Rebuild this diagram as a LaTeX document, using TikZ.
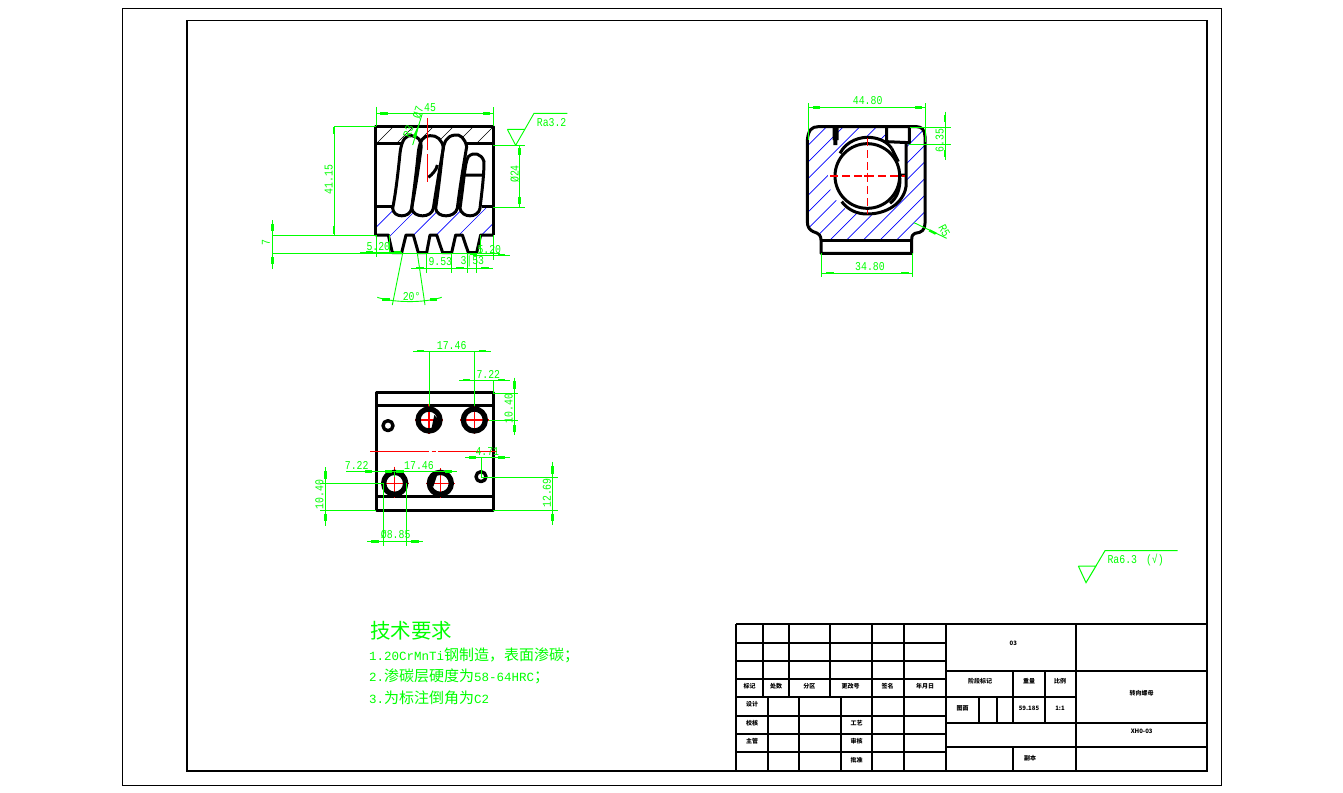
\documentclass[tikz,border=0pt]{standalone}
\usepackage{fontspec}
\setmainfont{Liberation Mono}
\newfontfamily\cjk{Noto Sans CJK SC}
\newfontfamily\dimf[FakeStretch=0.82]{Liberation Mono}
\definecolor{dimg}{RGB}{0,255,0}
\definecolor{cred}{RGB}{255,0,0}
\definecolor{hatchb}{RGB}{0,0,255}
\tikzset{
  part/.style={black,line width=3pt,line join=round},
  tb/.style={black,line width=1.7pt},
  dimline/.style={dimg,line width=.9pt},
  ctr/.style={cred,line width=1.1pt},
  hatchline/.style={line width=.7pt},
  dimtext/.style={dimg,inner sep=0pt,font=\dimf\fontsize{12}{12}\selectfont},
  tbtext/.style={black,inner sep=0pt,font=\cjk\bfseries\fontsize{6}{6}\selectfont},
  note/.style={dimg,inner sep=0pt,anchor=west,font=\cjk\fontsize{15}{15}\selectfont},
  zoomview/.style={x=1pt/3,y=-1pt/3}
}
\newcommand{\hb}[2]{\fill[dimg] (#1-11,#2-4) rectangle (#1+11,#2+4);}
\newcommand{\vb}[2]{\fill[dimg] (#1-4,#2-11) rectangle (#1+4,#2+11);}
\newcommand{\lat}[1]{{\rmfamily\fontsize{12.5}{14}\selectfont #1}}
\newcommand{\coilA}{(398,355) .. controls (405,320) and (412,270) .. (420,190) .. controls (425,145) and (440,135) .. (455,137) .. controls (475,140) and (485,150) .. (483,175) .. controls (475,240) and (465,300) .. (455,355) .. controls (450,385) and (400,385) .. (398,355) -- cycle}
\newcommand{\coilB}{(455,355) .. controls (460,385) and (515,385) .. (520,355) .. controls (530,290) and (540,230) .. (550,175) .. controls (548,150) and (530,135) .. (510,137) .. controls (490,138) and (480,150) .. (475,185) .. controls (470,240) and (462,300) .. (455,355) -- cycle}
\newcommand{\coilC}{(527,355) .. controls (530,385) and (585,385) .. (592,355) .. controls (600,290) and (610,230) .. (620,170) .. controls (615,145) and (600,132) .. (585,135) .. controls (560,138) and (552,155) .. (548,185) .. controls (542,240) and (535,300) .. (527,355) -- cycle}
\newcommand{\coilD}{(600,355) .. controls (605,385) and (655,385) .. (660,355) .. controls (665,310) and (672,260) .. (672,215) .. controls (665,190) and (640,185) .. (625,200) .. controls (615,215) and (612,270) .. (600,355) -- cycle}
\newcommand{\sideoutline}{(52,150) .. controls (55,120) and (65,110) .. (85,110) -- (380,110) .. controls (395,110) and (405,120) .. (405,140) -- (405,400) .. controls (405,420) and (395,428) .. (375,430) .. controls (368,432) and (365,438) .. (365,450)}
\begin{document}
\begin{tikzpicture}[x=1pt,y=-1pt]
\useasboundingbox (0,0) rectangle (1343,792);
\fill[white] (0,0) rectangle (1343,792);
\draw[black,line width=.7pt] (122.5,8.5) rectangle (1221,785);
\draw[black,line width=1.8pt] (187,20.5) rectangle (1207,771);

% ------ front view
\begin{scope}[shift={(260,90)},zoomview]
\begin{scope}
\clip (347,108) rectangle (700,160);
\foreach \k in {0,...,6} \draw[hatchline,black] (340+\k*60,170) -- (420+\k*60,90);
\end{scope}
\begin{scope}
\clip (347,350) rectangle (700,435);
\foreach \k in {0,...,6} \draw[hatchline,hatchb] (290+\k*68,470) -- (430+\k*68,330);
\end{scope}
\fill[white] \coilA; \fill[white] \coilB; \fill[white] \coilC; \fill[white] \coilD;
\draw[part] (347,435) -- (347,108) -- (700,108) -- (700,435);
\draw[part] (347,435) -- (385,435) -- (397,488) -- (425,488) -- (438,435) -- (460,435) -- (475,488) -- (500,488) -- (510,435) -- (530,435) -- (548,488) -- (575,488) -- (587,435) -- (607,435) -- (625,488) -- (650,488) -- (662,435) -- (700,435);
\draw[part] (347,160) -- (425,160) (620,160) -- (700,160);
\draw[part] (347,350) -- (395,350) (665,350) -- (700,350);
\draw[part] \coilA; \draw[part] \coilB; \draw[part] \coilC; \draw[part] \coilD;
\draw[part] (612,255) -- (670,255) (505,262) .. controls (515,255) and (530,240) .. (532,225);
\draw[ctr] (502,85) -- (502,180) (502,192) -- (502,275);
% dims
\draw[dimline] (349,50) -- (349,108) (700,52) -- (700,108) (349,70) -- (700,70);
\hb{372}{70}\hb{680}{70}
\node[dimtext] (fw) at (510,52) {45};
\draw[dimline] (487,70) -- (458,165);
\node[dimtext,rotate=72] (fa) at (474,68) {Ø7};
\node[dimtext,rotate=72] (fb) at (445,124) {R3};
\fill[dimg] (478,100) -- (468,145) -- (458,140) -- cycle;
\draw[dimline] (222,110) -- (347,110) (222,110) -- (222,435);
\vb{222}{122}\vb{222}{420}
\node[dimtext,rotate=90] (fh) at (206,268) {41.15};
\draw[dimline] (38,390) -- (38,538) (38,435) -- (347,435) (38,490) -- (720,490);
\vb{38}{412}\vb{38}{512}
\node[dimtext,rotate=90] (fs) at (18,458) {7};
\draw[dimline] (349,435) -- (349,500) (388,435) -- (388,490) (300,488) -- (425,488);
\hb{328}{486}\hb{412}{488}
\node[dimtext] (fl) at (355,470) {5.20};
\draw[dimline] (660,435) -- (660,490) (700,435) -- (700,510) (640,495) -- (750,495);
\hb{640}{492}\hb{725}{495}
\node[dimtext] (fr) at (688,478) {5.20};
\draw[dimline] (500,490) -- (500,548) (575,490) -- (575,548) (622,490) -- (622,548) (650,490) -- (650,548) (453,534) -- (700,534);
\hb{480}{534}\hb{600}{534}\hb{675}{534}
\node[dimtext] (fp) at (541,515) {9.53};
\node[dimtext] (fq) at (637,515) {3|53};
\draw[dimline] (428,490) -- (397,645) (472,490) -- (495,645);
\draw[dimline] (352,622) .. controls (400,638) and (490,640) .. (545,622);
\hb{378}{628}\hb{520}{628}
\node[dimtext] (fg) at (455,620) {20°};
\draw[dimline] (700,166) -- (795,166) (700,352) -- (795,352) (779,166) -- (779,352);
\vb{779}{185}\vb{779}{332}
\node[dimtext,rotate=90] (fd) at (764,252) {Ø24};
\draw[dimline] (742,118) -- (795,118) (742,118) -- (767,166) (767,166) -- (822,70) -- (922,70);
\node[dimtext,anchor=west] (fra) at (830,98) {Ra3.2};
\end{scope}

% ------ bottom view
\begin{scope}[shift={(300,335)},zoomview]
\draw[part] (228,525) -- (228,173) -- (580,173) -- (580,525) -- cycle;
\draw[part] (228,212) -- (580,212) (228,485) -- (580,485);
\foreach \cx/\cy in {387/255,523/255,284/445,421/445}{
  \fill[white] (\cx,\cy) circle (33);
}
\draw[ctr] (345,255) -- (430,255) (387,208) -- (387,298)
 (480,255) -- (568,255) (523,208) -- (523,298)
 (240,445) -- (328,445) (284,395) -- (284,488)
 (378,445) -- (465,445) (421,400) -- (421,488)
 (210,349) -- (387,349) (395,349) -- (407,349) (415,349) -- (590,349);
\foreach \cx/\cy in {387/255,523/255,284/445,421/445}{
  \draw[part,line width=5.3pt] (\cx,\cy) circle (33);
}
\fill[black] (403,240) -- (412,250) -- (408,290) -- (393,287) -- cycle;
\fill[black] (415,410) -- (400,412) -- (385,450) -- (400,455) -- cycle;
\draw[part,line width=3.4pt] (264,272) circle (15) (543,425) circle (15);
% dims
\draw[dimline] (388,48) -- (388,212) (523,48) -- (523,212) (340,48) -- (572,48);
\hb{362}{48}\hb{548}{48}
\node[dimtext] (ba) at (455,32) {17.46};
\draw[dimline] (478,135) -- (630,135) (580,135) -- (580,175) (580,175) -- (655,175) (568,256) -- (655,256) (643,128) -- (643,300);
\hb{500}{135}\hb{605}{135}\vb{643}{150}\vb{643}{280}
\node[dimtext] (bb) at (565,118) {7.22};
\node[dimtext,rotate=90] (bc) at (626,220) {10.40};
\draw[dimline] (496,367) -- (630,367) (544,367) -- (544,425) (544,427) -- (775,427) (580,525) -- (775,525) (758,380) -- (758,570);
\hb{518}{367}\hb{605}{367}\vb{758}{405}\vb{758}{548}
\node[dimtext] (bd) at (562,349) {4.71};
\node[dimtext,rotate=90] (be) at (741,474) {12.69};
\draw[dimline] (138,410) -- (470,410) (283,410) -- (283,425);
\hb{205}{410}\hb{265}{410}\hb{300}{410}\hb{445}{410}
\node[dimtext] (bf) at (170,391) {7.22};
\node[dimtext] (bg) at (357,391) {17.46};
\draw[dimline] (60,445) -- (248,445) (60,525) -- (228,525) (76,397) -- (76,572);
\vb{76}{420}\vb{76}{548}
\node[dimtext,rotate=90] (bh) at (58,478) {10.40};
\draw[dimline] (250,445) -- (250,632) (319,445) -- (319,632) (202,619) -- (368,619);
\hb{225}{619}\hb{345}{619}
\node[dimtext] (bi) at (287,600) {Ø8.85};
\end{scope}

% ------ side view
\begin{scope}[shift={(790,90)},zoomview]
\begin{scope}
\clip \sideoutline -- (93,450) .. controls (93,438) and (88,430) .. (70,425) .. controls (58,420) and (52,410) .. (52,395) -- cycle;
\foreach \k in {-8,...,12} \draw[hatchline,hatchb] (\k*50-100,520) -- (\k*50+340,80);
\end{scope}
\fill[white] (232,258) circle (118);
\fill[white] (290,112) rectangle (358,158);
\fill[white] (300,158) rectangle (348,255);
\draw[part] \sideoutline -- (365,490) -- (93,490) -- (93,450) .. controls (93,438) and (88,430) .. (70,425) .. controls (58,420) and (52,410) .. (52,395) -- cycle;
\draw[part] (93,450) -- (365,450);
\fill[black] (128,110) rectangle (146,150) (130,150) rectangle (142,165);
\draw[part] (290,110) -- (290,155) -- (358,158) -- (358,110);
\draw[part] (232,258) circle (97);
\draw[part] (150,190) .. controls (170,150) and (215,140) .. (240,142) .. controls (270,145) and (290,155) .. (305,175);
\draw[part] (348,160) -- (348,290) .. controls (340,340) and (290,372) .. (232,372) .. controls (200,372) and (175,360) .. (155,335);
\draw[part] (305,175) -- (325,215) (325,255) -- (348,255) (300,340) .. controls (320,325) and (330,300) .. (330,265);
\draw[ctr,dash pattern=on 8pt off 4pt] (120,258) -- (345,258) (232,145) -- (232,372);
\draw[ctr] (222,258) -- (245,258) (232,248) -- (232,270);
% dims
\draw[dimline] (55,40) -- (55,150) (406,40) -- (406,155) (55,52) -- (406,52);
\hb{80}{52}\hb{385}{52}
\node[dimtext] (sa) at (233,33) {44.80};
\draw[dimline] (360,112) -- (482,112) (358,162) -- (482,162) (465,65) -- (465,210);
\vb{465}{85}\vb{465}{190}
\node[dimtext,rotate=90] (sb) at (449,152) {6.35};
\draw[dimline] (372,398) -- (470,445);
\fill[dimg] (420,418) -- (440,428) -- (435,434) -- (416,424) -- cycle;
\node[dimtext,rotate=-62] (sc) at (463,423) {R5};
\draw[dimline] (95,490) -- (95,562) (367,490) -- (367,562) (95,549) -- (367,549);
\hb{120}{549}\hb{345}{549}
\node[dimtext] (sd) at (240,530) {34.80};
\end{scope}

% ------ roughness symbol
\begin{scope}[shift={(1070,540)},zoomview]
\draw[dimline,line width=1pt] (25,78) -- (78,78) -- (48,128) -- (25,78) (48,128) -- (105,32) -- (323,32);
\node[dimtext,anchor=west] (rb) at (112,60) {Ra6.3\hspace{9pt}(√)};
\end{scope}

% ------ notes
\node[note,font=\cjk\fontsize{20.5}{21}\selectfont] (n0) at (370,631) {技术要求};
\node[note] (n1) at (369,655) {\lat{1.20CrMnTi}钢制造，表面渗碳；};
\node[note] (n2) at (369,676) {\lat{2.}渗碳层硬度为\lat{58-64HRC}；};
\node[note] (n3) at (369,698) {\lat{3.}为标注倒角为\lat{C2}};

% ------ title block
\begin{scope}[shift={(730,620)},zoomview]
\draw[tb] (18,12) -- (18,452) (18,12) -- (1431,12);
\foreach \xx in {100,177,300,425,522} \draw[tb] (\xx,12) -- (\xx,230);
\foreach \yy in {70,124,178,230} \draw[tb] (18,\yy) -- (648,\yy);
\foreach \xx in {113,207,333,425,522} \draw[tb] (\xx,230) -- (\xx,452);
\foreach \yy in {288,342,396} \draw[tb] (18,\yy) -- (648,\yy);
\draw[tb] (648,12) -- (648,452);
\draw[tb] (1038,12) -- (1038,452);
\draw[tb] (648,152) -- (1431,152) (648,230) -- (1038,230) (648,310) -- (1431,310) (648,380) -- (1431,380);
\draw[tb] (848,152) -- (848,310) (945,152) -- (945,310) (748,230) -- (748,310) (800,230) -- (800,310) (848,380) -- (848,452);
\node[tbtext] (t1) at (59,198) {标记};
\node[tbtext] (t2) at (138,198) {处数};
\node[tbtext] (t3) at (238,198) {分区};
\node[tbtext] (t4) at (362,198) {更改号};
\node[tbtext] (t5) at (473,198) {签名};
\node[tbtext] (t6) at (585,198) {年月日};
\node[tbtext] (t7) at (66,253) {设计};
\node[tbtext] (t8) at (66,309) {校核};
\node[tbtext] (t9) at (66,364) {主管};
\node[tbtext] (t10) at (380,309) {工艺};
\node[tbtext] (t11) at (380,364) {审核};
\node[tbtext] (t12) at (380,420) {批准};
\node[tbtext] (t13) at (850,70) {03};
\node[tbtext] (t14) at (750,184) {阶段标记};
\node[tbtext] (t15) at (897,184) {重量};
\node[tbtext] (t16) at (990,184) {比例};
\node[tbtext] (t17) at (698,265) {图面};
\node[tbtext] (t18) at (897,265) {59.185};
\node[tbtext] (t19) at (990,265) {1:1};
\node[tbtext] (t20) at (1235,220) {转向螺母};
\node[tbtext] (t21) at (1235,335) {XH0-03};
\node[tbtext] (t22) at (900,415) {副本};
\end{scope}
\end{tikzpicture}
\end{document}
